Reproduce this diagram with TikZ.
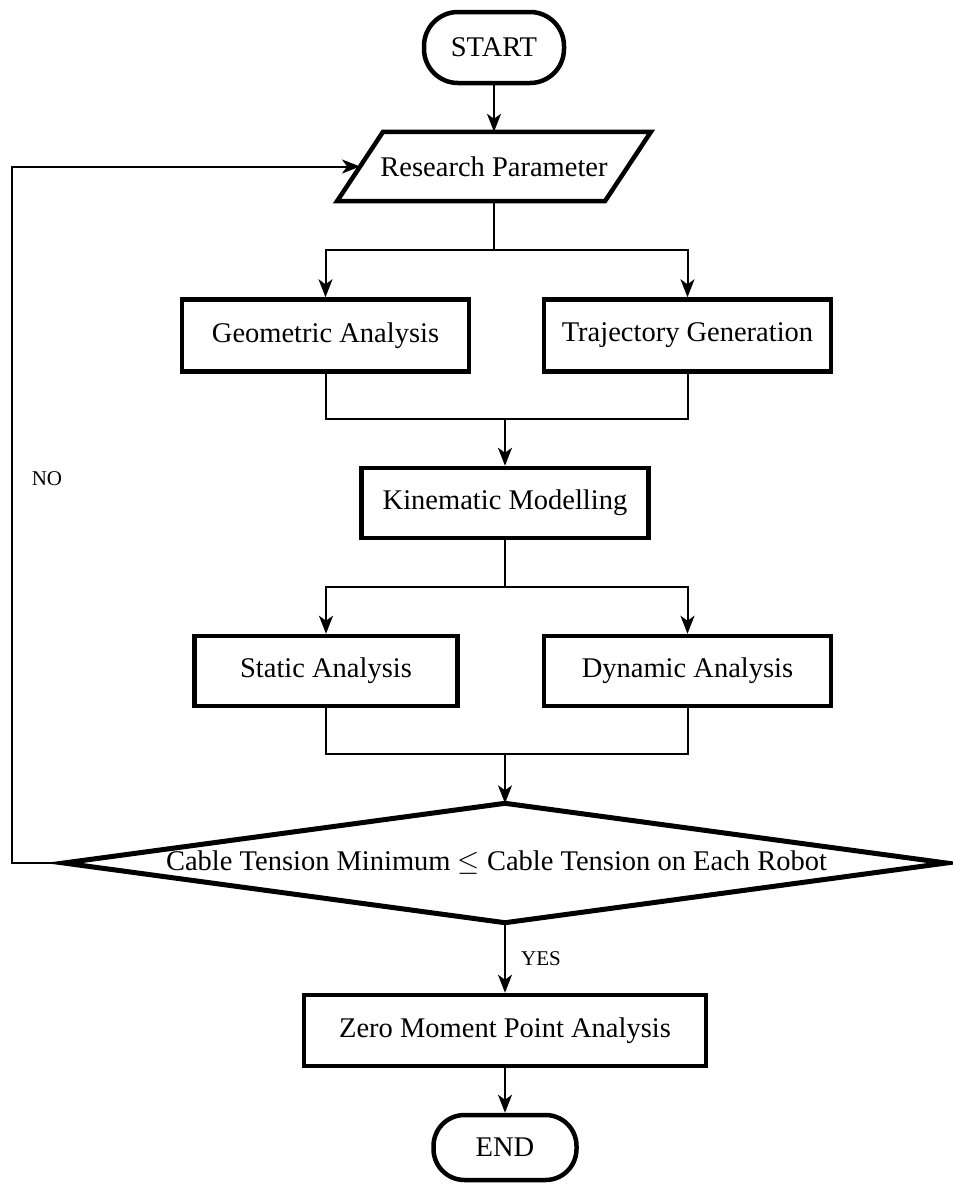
\RequirePackage{fix-cm}
\documentclass[tikz,border=0pt]{standalone}
\usepackage{fontspec}
\setmainfont{Liberation Serif}
\usetikzlibrary{arrows.meta,calc}
\begin{document}
\begin{tikzpicture}[x=1pt,y=-1pt,
  box/.style={draw=black,line width=4.5pt,rectangle,align=center,inner sep=0pt,
    font=\fontsize{28.5}{34}\selectfont},
  term/.style={box,rounded corners=34pt},
  plain/.style={draw=none,rectangle,inner sep=0pt,align=center,
    font=\fontsize{28.5}{34}\selectfont},
  conn/.style={draw=black,line width=2pt},
  arr/.style={conn,-{Stealth[length=18pt,width=14pt,inset=5pt]}},
  lab/.style={inner sep=0pt,font=\fontsize{21}{24}\selectfont}
]
\useasboundingbox (0,0) rectangle (953,1184);
\fill[white] (0,0) rectangle (953,1184);

% nodes
\node[term,minimum width=140pt,minimum height=71pt] (start) at (494,47.5) {START};
\node[plain,minimum width=267.5pt,minimum height=69pt] (rp) at (494,166.5) {Research Parameter};
\draw[line width=4.5pt,line join=miter]
  ([xshift=23pt]rp.north west) -- ([xshift=23pt]rp.north east)
  -- ([xshift=-23pt]rp.south east) -- ([xshift=-23pt]rp.south west) -- cycle;
\node[box,minimum width=287pt,minimum height=72pt] (ga) at (325.5,335.5) {Geometric Analysis};
\node[box,minimum width=287pt,minimum height=72pt] (tg) at (687.5,335.5) {Trajectory Generation};
\node[box,minimum width=287pt,minimum height=70pt] (km) at (505,503) {Kinematic Modelling};
\node[box,minimum width=263pt,minimum height=70pt] (sa) at (326,671) {Static Analysis};
\node[box,minimum width=287pt,minimum height=70pt] (da) at (687.5,671) {Dynamic Analysis};
\node[plain,minimum width=882pt,minimum height=119pt] (dec) at (505,863)
  {Cable Tension Minimum $\leq$ Cable Tension on Each Robot\hspace*{17pt}};
\draw[line width=5pt,line join=miter]
  (dec.north) -- (dec.east) -- (dec.south) -- (dec.west) -- cycle;
\node[box,minimum width=402pt,minimum height=71pt] (zmp) at (505,1030.5) {Zero Moment Point Analysis};
\node[term,minimum width=143pt,minimum height=65pt,rounded corners=31pt] (end) at (505,1147.5) {END};

% helper coordinates
\coordinate (s1) at (494,250);
\coordinate (j1) at (505,419);
\coordinate (s2) at (505,587);
\coordinate (j2) at (505,754);
\coordinate (fbx) at (12,0);

% connectors
\draw[arr] (start.south) -- (rp.north);
\draw[conn] (rp.south) -- (s1);
\draw[arr] (s1) -| (ga.north);
\draw[arr] (s1) -| (tg.north);
\draw[conn] (ga.south) |- (j1);
\draw[conn] (tg.south) |- (j1);
\draw[arr] (j1) -- (km.north);
\draw[conn] (km.south) -- (s2);
\draw[arr] (s2) -| (sa.north);
\draw[arr] (s2) -| (da.north);
\draw[conn] (sa.south) |- (j2);
\draw[conn] (da.south) |- (j2);
\draw[arr] (j2) -- (dec.north);
\draw[arr] (dec.south) -- (zmp.north);
\draw[arr] (zmp.south) -- (end.north);
\draw[arr] (dec.west) -- (dec.west -| fbx) |- (rp.west);

% labels
\node[lab] (no) at (47,479) {NO};
\node[lab] (yes) at (541,959) {YES};
\end{tikzpicture}
\end{document}
